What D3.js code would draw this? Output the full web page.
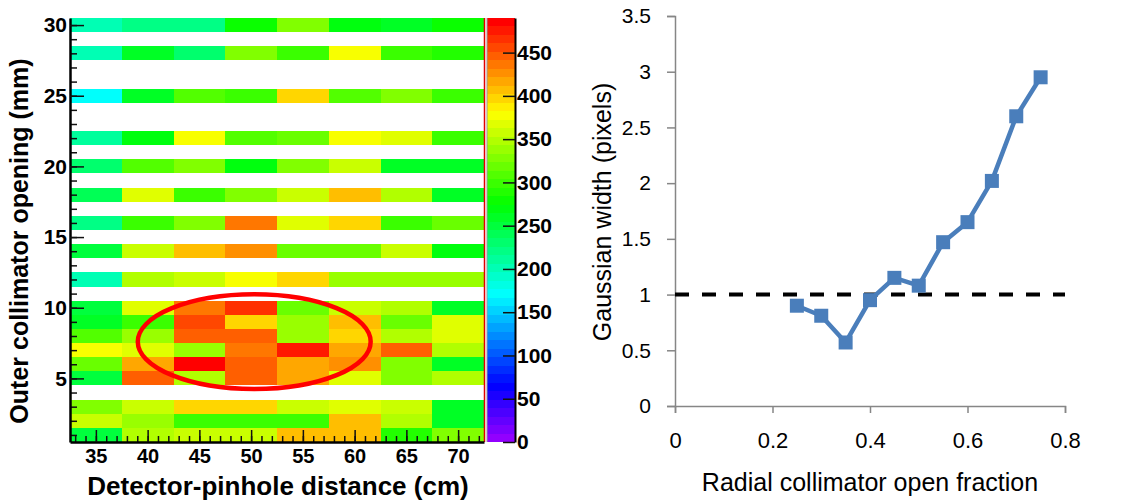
<!DOCTYPE html>
<html>
<head>
<meta charset="utf-8">
<script src="https://cdn.jsdelivr.net/npm/d3@7"></script>
<style>
  html, body { margin: 0; padding: 0; background: #fff; }
  svg { display: block; }
  .root text { font-family: "Liberation Sans", Arial, sans-serif; font-weight: bold; fill: #000; }
  .xl text { font-family: "Liberation Sans", Arial, sans-serif; fill: #000; }
</style>
</head>
<body>
<svg id="chart" width="1122" height="504"></svg>
<script>
// left panel: gaussian width map (ROOT COLZ style)
const distances = [35, 40, 45, 50, 55, 60, 65, 70];
const openings = [30, 28, 25, 22, 20, 18, 16, 14, 12, 10, 9, 8, 7, 6, 5, 3, 2, 1];
const widthMap = [
  [200, 220, 220, 275, 328, 270, 255, 280],
  [200, 255, 235, 328, 303, 377, 303, 289],
  [170, 255, 309, 303, 392, 313, 328, 296],
  [211, 270, 377, 309, 318, 377, 367, 296],
  [233, 309, 328, 270, 328, 358, 260, 260],
  [240, 367, 303, 328, 358, 407, 348, 260],
  [220, 296, 328, 436, 367, 397, 303, 318],
  [245, 358, 407, 426, 318, 318, 358, 265],
  [205, 348, 358, 377, 397, 338, 338, 338],
  [245, 367, 436, 465, 318, 353, 343, 255],
  [260, 303, 455, 392, 338, 402, 318, 367],
  [309, 338, 443, 443, 338, 392, 343, 367],
  [377, 367, 338, 436, 475, 418, 443, 343],
  [318, 418, 485, 443, 416, 426, 328, 260],
  [245, 450, 343, 443, 416, 367, 328, 343],
  [328, 358, 392, 392, 358, 367, 353, 255],
  [358, 338, 303, 303, 303, 407, 343, 255],
  [245, 348, 358, 358, 407, 407, 289, 328]
];
const zMax = 490;
const xMajor = [35, 40, 45, 50, 55, 60, 65, 70];
const yMajor = [5, 10, 15, 20, 25, 30];
const zTicks = [0, 50, 100, 150, 200, 250, 300, 350, 400, 450];
const highlight = { cx: 50.3, cy: 7.6, rx: 11.25, ry: 3.35 };

// right panel: gaussian width vs open fraction
const openFraction = [0.25, 0.30, 0.35, 0.40, 0.45, 0.50, 0.55, 0.60, 0.65, 0.70, 0.75];
const gaussWidth = [0.90, 0.81, 0.57, 0.95, 1.15, 1.08, 1.47, 1.65, 2.02, 2.60, 2.95];
const fracTicks = [0, 0.2, 0.4, 0.6, 0.8];
const widthTicks = [0, 0.5, 1, 1.5, 2, 2.5, 3, 3.5];
const referenceWidth = 1;

const svg = d3.select('#chart');

// ---------- left: heat map ----------
const left = svg.append('g').attr('class', 'root');
const x = d3.scaleLinear().domain([32.5, 72.5]).range([70, 484]);
const y = d3.scaleLinear().domain([0.5, 30.5]).range([442, 18]);

// ROOT default palette: 50 colours, hue 280 -> 0
const palette = d3.range(50).map(i => d3.hsl(280 - (i + 1) * 5.6, 1, 0.5).formatHex());
const color = d3.scaleQuantize().domain([0, zMax]).range(palette);

const cells = [];
openings.forEach((o, r) => distances.forEach((d, c) => cells.push({ d, o, v: widthMap[r][c] })));

left.append('g').selectAll('rect')
  .data(cells)
  .join('rect')
  .attr('x', d => x(d.d - 2.5))
  .attr('y', d => y(d.o + 0.5))
  .attr('width', x(5) - x(0))
  .attr('height', y(0) - y(1))
  .attr('fill', d => color(d.v))
  .attr('shape-rendering', 'crispEdges');

// red edge on the right of the frame
left.append('line')
  .attr('x1', x(72.5) + 0.5).attr('x2', x(72.5) + 0.5)
  .attr('y1', y(30.5)).attr('y2', y(0.5))
  .attr('stroke', '#e00000').attr('stroke-width', 1.5);

// highlight ellipse
left.append('ellipse')
  .attr('cx', x(highlight.cx))
  .attr('cy', y(highlight.cy))
  .attr('rx', x(highlight.rx) - x(0))
  .attr('ry', y(0) - y(highlight.ry))
  .attr('fill', 'none')
  .attr('stroke', '#ff0000')
  .attr('stroke-width', 4.5);

// axes
const yMinor = d3.range(1, 31);
const xMinor = d3.range(33, 73);
left.append('g')
  .attr('transform', `translate(${x(32.5)},0)`)
  .call(d3.axisLeft(y).tickValues(yMinor).tickSizeInner(-7).tickSizeOuter(0).tickFormat(''))
  .call(g => g.select('.domain').remove())
  .call(g => g.selectAll('line').attr('stroke', '#111').attr('stroke-width', 1.5));
left.append('g')
  .attr('transform', `translate(${x(32.5)},0)`)
  .call(d3.axisLeft(y).tickValues(yMajor).tickSizeInner(-14).tickSizeOuter(0).tickPadding(3))
  .call(g => g.select('.domain').attr('stroke', '#000').attr('stroke-width', 2.5))
  .call(g => g.selectAll('line').attr('stroke', '#111').attr('stroke-width', 1.5))
  .call(g => g.selectAll('text').attr('font-size', 21).attr('font-family', null));

left.append('g')
  .attr('transform', `translate(0,${y(0.5)})`)
  .call(d3.axisBottom(x).tickValues(xMinor).tickSizeInner(-6).tickSizeOuter(0).tickFormat(''))
  .call(g => g.select('.domain').remove())
  .call(g => g.selectAll('line').attr('stroke', '#111').attr('stroke-width', 1.5));
left.append('g')
  .attr('transform', `translate(0,${y(0.5)})`)
  .call(d3.axisBottom(x).tickValues(xMajor).tickSizeInner(-12).tickSizeOuter(0).tickPadding(7))
  .call(g => g.select('.domain').attr('stroke', '#000').attr('stroke-width', 2.5))
  .call(g => g.selectAll('line').attr('stroke', '#111').attr('stroke-width', 1.5))
  .call(g => g.selectAll('text').attr('font-size', 20).attr('font-family', null));

left.append('text')
  .attr('x', 278).attr('y', 495)
  .attr('text-anchor', 'middle')
  .attr('font-size', 26)
  .text('Detector-pinhole distance (cm)');
left.append('text')
  .attr('transform', 'translate(28,241) rotate(-90)')
  .attr('text-anchor', 'middle')
  .attr('font-size', 25)
  .text('Outer collimator opening (mm)');

// colour bar
const z = d3.scaleLinear().domain([0, zMax]).range([442, 18]);
const bins = d3.range(50).map(i => ({ lo: i * zMax / 50, hi: (i + 1) * zMax / 50, c: palette[i] }));
left.append('g').selectAll('rect')
  .data(bins)
  .join('rect')
  .attr('x', 487)
  .attr('y', d => z(d.hi))
  .attr('width', 28)
  .attr('height', d => z(d.lo) - z(d.hi))
  .attr('fill', d => d.c)
  .attr('shape-rendering', 'crispEdges');
left.append('line')
  .attr('x1', 487).attr('x2', 487).attr('y1', 18).attr('y2', 442)
  .attr('stroke', '#999').attr('stroke-width', 1);
left.append('g')
  .attr('transform', 'translate(515,0)')
  .call(d3.axisRight(z).tickValues(zTicks).tickSizeInner(-12).tickSizeOuter(0).tickPadding(2))
  .call(g => g.select('.domain').attr('stroke', '#000').attr('stroke-width', 2))
  .call(g => g.selectAll('line').attr('stroke', '#111').attr('stroke-width', 1.5))
  .call(g => g.selectAll('text').attr('font-size', 21).attr('font-family', null));

// ---------- right: line chart ----------
const right = svg.append('g').attr('class', 'xl');
const fx = d3.scaleLinear().domain([0, 0.8]).range([675, 1065]);
const fy = d3.scaleLinear().domain([0, 3.5]).range([406, 16]);

right.append('g')
  .attr('transform', `translate(675,0)`)
  .call(d3.axisLeft(fy).tickValues(widthTicks).tickSize(8).tickPadding(16).tickFormat(d => String(d)))
  .call(g => g.selectAll('.domain, line').attr('stroke', '#868686').attr('stroke-width', 1.5))
  .call(g => g.selectAll('text').attr('font-size', 21).attr('font-family', null));
right.append('g')
  .attr('transform', `translate(0,406)`)
  .call(d3.axisBottom(fx).tickValues(fracTicks).tickSize(7).tickPadding(19).tickFormat(d => String(d)))
  .call(g => g.selectAll('.domain, line').attr('stroke', '#868686').attr('stroke-width', 1.5))
  .call(g => g.selectAll('text').attr('font-size', 22).attr('font-family', null));

right.append('line')
  .attr('x1', fx(0)).attr('x2', fx(0.8))
  .attr('y1', fy(referenceWidth)).attr('y2', fy(referenceWidth))
  .attr('stroke', '#000').attr('stroke-width', 4)
  .attr('stroke-dasharray', '14 13');

const pts = openFraction.map((f, i) => [f, gaussWidth[i]]);
right.append('path')
  .datum(pts)
  .attr('fill', 'none')
  .attr('stroke', '#4a7ebb')
  .attr('stroke-width', 4.5)
  .attr('stroke-linejoin', 'round')
  .attr('d', d3.line().x(d => fx(d[0])).y(d => fy(d[1])));
right.append('g').selectAll('rect')
  .data(pts)
  .join('rect')
  .attr('x', d => fx(d[0]) - 7)
  .attr('y', d => fy(d[1]) - 7)
  .attr('width', 14).attr('height', 14)
  .attr('fill', '#4a7ebb');

right.append('text')
  .attr('x', 870).attr('y', 491)
  .attr('text-anchor', 'middle')
  .attr('font-size', 25)
  .text('Radial collimator open fraction');
right.append('text')
  .attr('transform', 'translate(611,212) rotate(-90)')
  .attr('text-anchor', 'middle')
  .attr('font-size', 25)
  .text('Gaussian width (pixels)');
</script>
</body>
</html>
